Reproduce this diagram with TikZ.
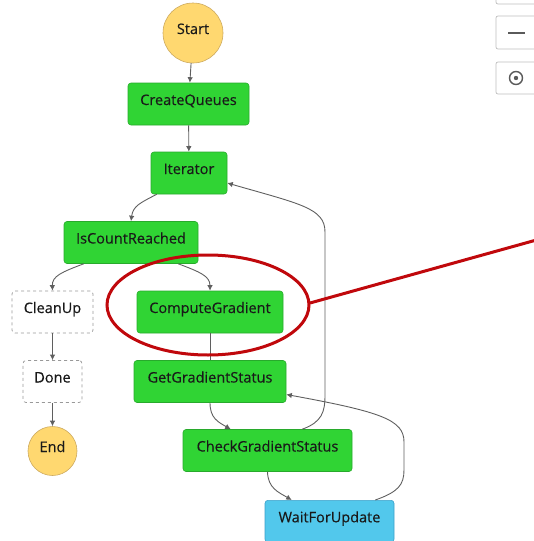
\documentclass[tikz,border=0pt]{standalone}
\usepackage{fontspec}
\setmainfont{Open Sans}[FakeBold=0.35]
\usetikzlibrary{arrows.meta}
\definecolor{taskgreen}{RGB}{48,212,52}
\definecolor{taskgreenline}{RGB}{40,170,44}
\definecolor{waitblue}{RGB}{82,200,236}
\definecolor{waitblueline}{RGB}{60,160,200}
\definecolor{termfill}{RGB}{255,216,112}
\definecolor{termline}{RGB}{205,170,95}
\definecolor{edgegray}{RGB}{95,95,95}
\definecolor{marker}{RGB}{192,8,12}
\definecolor{ctrlline}{RGB}{190,190,190}
\definecolor{ctrlicon}{RGB}{90,90,90}
\begin{document}
\begin{tikzpicture}[x=1pt,y=-1pt,
  font=\fontsize{14.5}{16}\selectfont,
  task/.style={rectangle, rounded corners=3pt, fill=taskgreen, draw=taskgreenline,
    line width=0.6pt, minimum height=42pt, inner sep=0pt, text=black!90,
    text height=11pt, text depth=9pt},
  waitbox/.style={task, fill=waitblue, draw=waitblueline},
  passbox/.style={rectangle, rounded corners=3pt, fill=white, draw=black!40, dashed,
    line width=0.7pt, minimum height=42pt, inner sep=0pt, text=black!90,
    text height=11pt, text depth=9pt},
  term/.style={circle, fill=termfill, draw=termline, line width=0.6pt, inner sep=0pt,
    text=black!90, text height=11pt, text depth=9pt},
  flow/.style={draw=edgegray, line width=0.9pt, -{Latex[length=5.5pt,width=5.5pt]}},
  plain/.style={draw=edgegray, line width=0.9pt},
  ctrl/.style={draw=ctrlline, fill=white, rounded corners=2pt, line width=0.7pt}]

\useasboundingbox (0,0) rectangle (534,541);

% zoom controls on the right edge
\draw[ctrl] (496,-10) rectangle (545,4);
\draw[ctrl] (496,16) rectangle (545,49);
\draw[ctrl] (496,62) rectangle (545,94);
\draw[ctrlicon, line width=1.6pt] (508,33) -- (525,33);
\draw[ctrlicon, line width=1.4pt] (516,78) circle (6.5);
\fill[ctrlicon] (516,78) circle (2.2);

% states
\node[term, minimum size=60pt] (start) at (193,33) {Start};
\node[task, minimum width=121pt] (create) at (188.5,104) {CreateQueues};
\node[task, minimum width=76pt] (iter) at (189,173) {Iterator};
\node[task, minimum width=134pt] (count) at (131,242.5) {IsCountReached};
\node[passbox, minimum width=81pt] (clean) at (52.5,312) {CleanUp};
\node[task, minimum width=146pt] (compute) at (210,312) {ComputeGradient};
\node[passbox, minimum width=59pt] (done) at (52.5,381.5) {Done};
\node[task, minimum width=152pt] (getstat) at (210,381.5) {GetGradientStatus};
\node[term, minimum size=49pt] (end) at (52.5,451) {End};
\node[task, minimum width=169pt] (check) at (267.5,450.5) {CheckGradientStatus};
\node[waitbox, minimum width=129pt, anchor=north] (wait) at (329.5,500) {WaitForUpdate};

% transitions
\draw[flow] (start) -- (create);
\draw[flow] (create) -- (iter);
\draw[flow] ([xshift=6pt]iter.south west) .. controls (140,203) and (133,206) .. (count.north);
\draw[flow] ([xshift=20pt]count.south west) .. controls (62,272) and (52,276) .. (clean.north);
\draw[flow] ([xshift=-20pt]count.south east) .. controls (200,272) and (210,276) .. (compute.north);
\draw[plain] (compute) -- (getstat);
\draw[flow] (clean) -- (done);
\draw[flow] (done) -- (end);
\draw[flow] (getstat.south) .. controls (210,418) and (218,422) .. ([xshift=48pt]check.north west);
\draw[flow] (check.south) .. controls (268,488) and (278,492) .. ([xshift=27pt]wait.north west);
\draw[flow] ([xshift=-50pt]check.north east) .. controls (322,422) and (325,412) .. (325,395)
  -- (325,232) .. controls (325,208) and (300,204) .. ([yshift=-10pt]iter.east);
\draw[flow] ([xshift=-19pt]wait.north east) .. controls (398,492) and (404,485) .. (404,470)
  -- (404,442) .. controls (404,420) and (382,412) .. ([yshift=-13pt]getstat.east);

% highlight around ComputeGradient
\draw[marker, line width=3pt] (compute.center) ++(-2,-7) ellipse (101pt and 50pt);
\coordinate (calloutend) at (540,239);
\draw[marker, line width=3pt] (310,303) -- (calloutend);
\end{tikzpicture}
\end{document}
